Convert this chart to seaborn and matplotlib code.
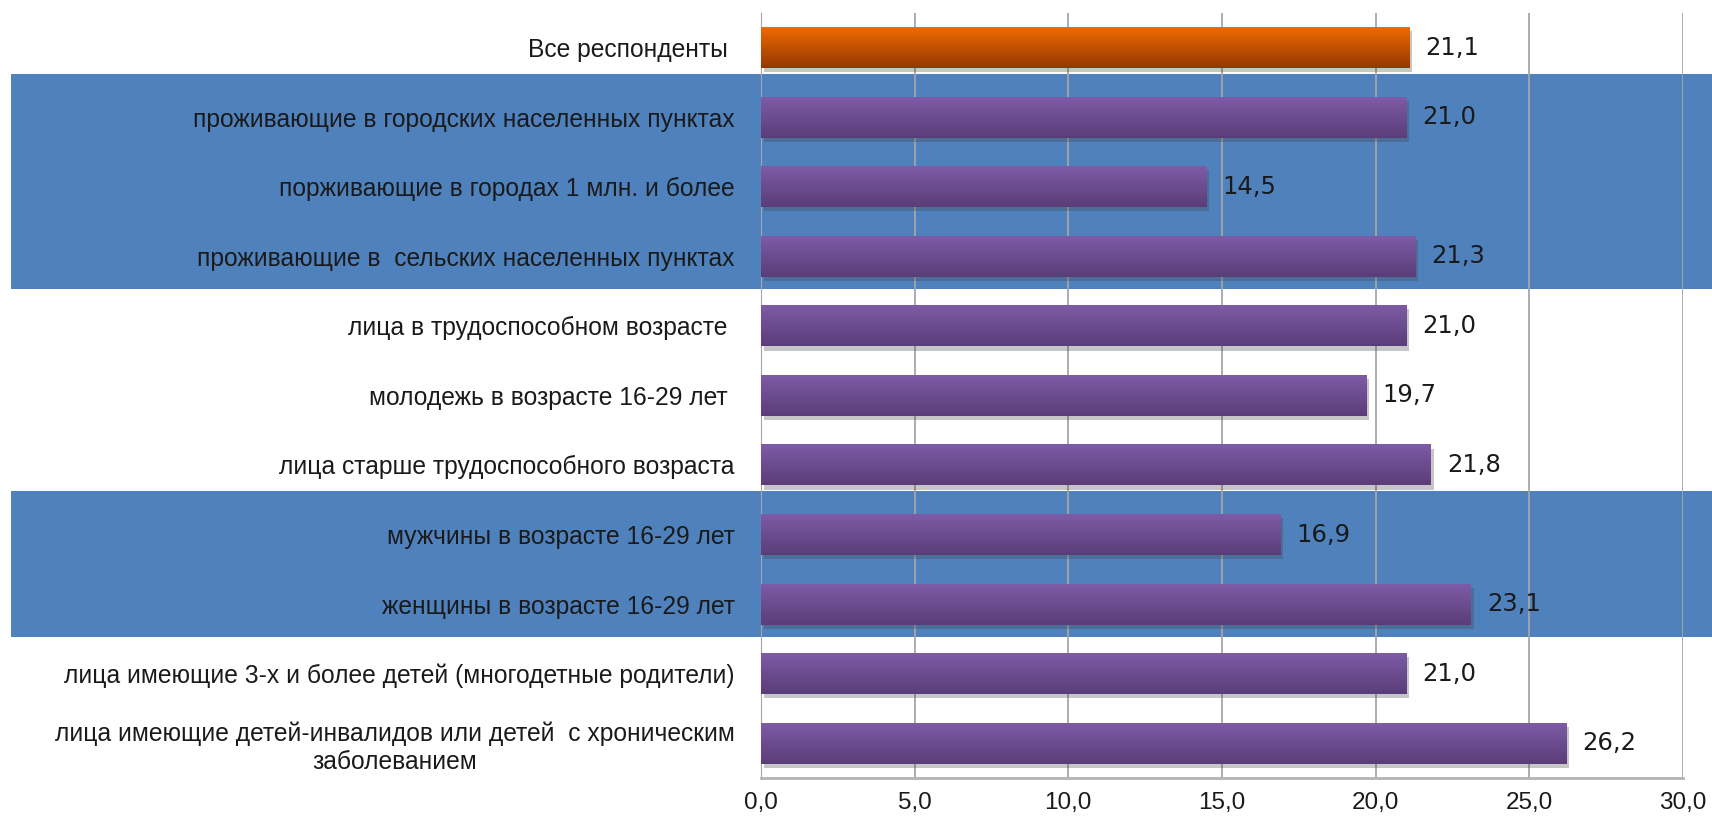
import numpy as np
import pandas as pd
import matplotlib
matplotlib.use('Agg')
import matplotlib.pyplot as plt
import matplotlib.patheffects as pe
import seaborn as sns
from matplotlib.patches import Rectangle
from matplotlib.transforms import blended_transform_factory

categories = [
    'Все респонденты ',
    'проживающие в городских населенных пунктах',
    'порживающие в городах 1 млн. и более',
    'проживающие в  сельских населенных пунктах',
    'лица в трудоспособном возрасте ',
    'молодежь в возрасте 16-29 лет ',
    'лица старше трудоспособного возраста',
    'мужчины в возрасте 16-29 лет',
    'женщины в возрасте 16-29 лет',
    'лица имеющие 3-х и более детей (многодетные родители)',
    'лица имеющие детей-инвалидов или детей  с хроническим\nзаболеванием',
]
values = [21.1, 21.0, 14.5, 21.3, 21.0, 19.7, 21.8, 16.9, 23.1, 21.0, 26.2]
value_labels = ['21,1', '21,0', '14,5', '21,3', '21,0', '19,7', '21,8', '16,9', '23,1', '21,0', '26,2']
x_ticks = [0, 5, 10, 15, 20, 25, 30]
x_tick_labels = ['0,0', '5,0', '10,0', '15,0', '20,0', '25,0', '30,0']
# rows (first, last) shaded by the blue bands
bands = [(1, 3), (7, 8)]

sns.set_style('white')
plt.rcParams['font.family'] = ['Liberation Sans', 'DejaVu Sans']

fig = plt.figure(figsize=(17.12, 8.17), dpi=100)
ax = fig.add_axes([0.4445, 0.0477, 0.5385, 0.9367])
ax.set_facecolor('none')

df = pd.DataFrame({'group': categories, 'value': values})
palette = ['#d45c00'] + ['#6e4e95'] * (len(categories) - 1)
sns.barplot(data=df, x='value', y='group', hue='group', palette=palette, legend=False,
            orient='h', width=0.59, saturation=1, ax=ax, zorder=3, linewidth=0, edgecolor='none')

# gradient fill + soft shadow on each bar
bars = sorted(ax.patches, key=lambda p: p.get_y())
for i, bar in enumerate(bars):
    if i == 0:
        top, bot = np.array([0.95, 0.42, 0.0]), np.array([0.58, 0.22, 0.0])
    else:
        top, bot = np.array([0.50, 0.36, 0.66]), np.array([0.35, 0.24, 0.47])
    t = np.linspace(0, 1, 64).reshape(-1, 1, 1)
    grad = top * (1 - t) + bot * t
    x0, y0 = bar.get_x(), bar.get_y()
    x1, y1 = x0 + bar.get_width(), y0 + bar.get_height()
    bar.set_path_effects([pe.SimplePatchShadow(offset=(2, -3), alpha=0.3, shadow_rgbFace='#444444'),
                          pe.Normal()])
    im = ax.imshow(grad, extent=(x0, x1, y1, y0), aspect='auto', zorder=4, interpolation='bilinear')
    im.set_clip_path(bar)

for i, (v, lbl) in enumerate(zip(values, value_labels)):
    ax.annotate(lbl, (v, i), xytext=(11.5, 0), textcoords='offset points', va='center', ha='left',
                fontsize=17.5, family='DejaVu Sans', color='#1a1a1a', zorder=5)

ax.set_xlim(0, 30)
ax.set_ylim(len(categories) - 0.5, -0.5)

# blue bands behind groups of rows, spanning the label area too
trans = blended_transform_factory(fig.transFigure, ax.transData)
for first, last in bands:
    lo, hi = first - 0.62, last + 0.47
    fig.add_artist(Rectangle((0.0065, lo), 1 - 0.0065, hi - lo, transform=trans,
                             facecolor='#4f81bd', edgecolor='none', zorder=-1))

ax.set_xticks(x_ticks, x_tick_labels)
ax.set_yticks(range(len(categories)), categories)
ax.set_yticks(np.arange(-0.5, len(categories)), minor=True)
ax.tick_params(axis='y', which='major', length=0, pad=19, labelsize=17.7, labelcolor='#1a1a1a')
ax.tick_params(axis='y', which='minor', length=6, width=1, color='#a6a6a6')
ax.tick_params(axis='x', length=4, width=1, color='#a6a6a6', pad=6, labelsize=17.5, labelcolor='#1a1a1a')
for t in ax.get_yticklabels():
    t.set_multialignment('center')

ax.xaxis.grid(True, color='#a6a6a6', lw=1.3, zorder=1)
ax.set_axisbelow(True)
ax.set_xlabel('')
ax.set_ylabel('')
sns.despine(ax=ax, top=True, right=True)
ax.spines['left'].set_color('#a6a6a6')
ax.spines['bottom'].set_color('#b3b3b3')
ax.spines['bottom'].set_linewidth(2)

fig.savefig('out.png', dpi=100)
